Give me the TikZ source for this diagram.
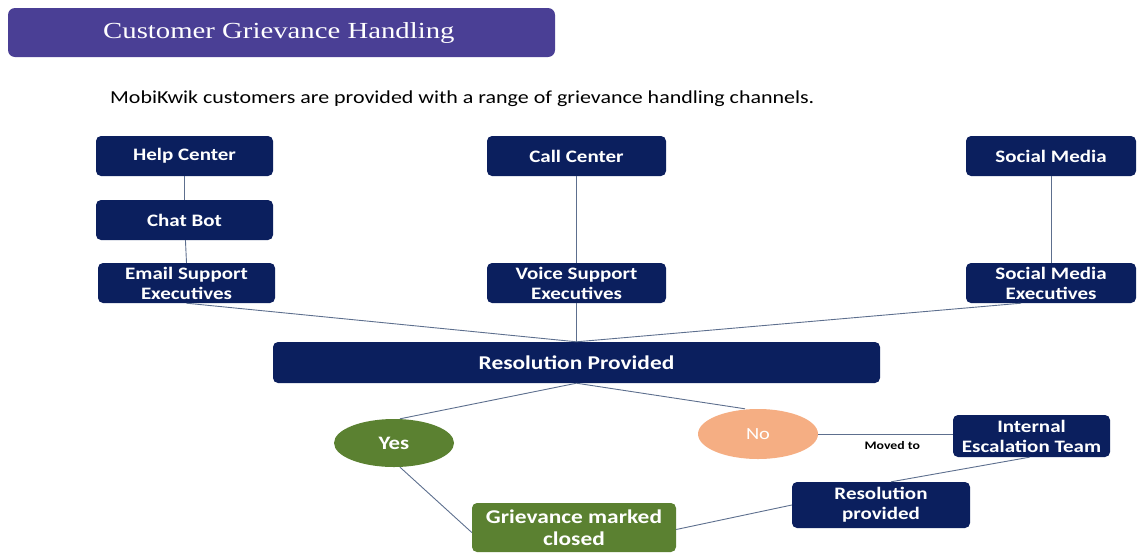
\documentclass[tikz,border=0pt]{standalone}
\usepackage{fontspec}
\setmainfont[FakeStretch=1.2]{Carlito}
\newfontfamily\titlefont[FakeStretch=1.25]{Liberation Serif}
\usetikzlibrary{shapes.geometric}
\definecolor{navy}{HTML}{0B1F5E}
\definecolor{titlebg}{HTML}{4A3F95}
\definecolor{okgreen}{HTML}{5B8131}
\definecolor{nopeach}{HTML}{F5AE83}
\definecolor{linec}{HTML}{5D6F8E}
\tikzset{
  box/.style={draw=none, fill=navy, rounded corners=5pt, text=white, font=\bfseries\fontsize{17.5}{20}\selectfont, align=center, inner sep=0pt},
  greenbox/.style={box, fill=okgreen, font=\bfseries\fontsize{19.5}{22}\selectfont},
  oval/.style={ellipse, fill=okgreen, text=white, font=\bfseries\fontsize{19}{20}\selectfont, inner sep=0pt},
  conn/.style={draw=linec, line width=0.9pt},
}
\begin{document}
\begin{tikzpicture}[x=1pt,y=-1pt]
\useasboundingbox (0,0) rectangle (1137,552);
% title
\node[fill=titlebg, rounded corners=7pt, minimum width=547pt, minimum height=49pt, inner sep=0pt] (title) at (281.5,32.5) {};
\node[anchor=west, inner sep=0pt, text=white, font=\titlefont\fontsize{23}{26}\selectfont] (titletext) at (103,33) {Customer Grievance Handling};
\node[anchor=west, inner sep=0pt, font=\fontsize{18.3}{20}\selectfont] (sub) at (110,99) {MobiKwik customers are provided with a range of grievance handling channels.};
% top row
\node[box, minimum width=177pt, minimum height=40pt] (help) at (184.5,156) {Help Center};
\node[box, minimum width=177pt, minimum height=40pt] (chat) at (184.5,220) {Chat Bot};
\node[box, minimum width=177pt, minimum height=40pt] (email) at (186.5,283) {Email Support\\Executives};
\node[box, minimum width=179pt, minimum height=40pt] (call) at (576.5,156) {Call Center};
\node[box, minimum width=179pt, minimum height=40pt] (voice) at (576.5,283) {Voice Support\\Executives};
\node[box, minimum width=170pt, minimum height=40pt] (social) at (1051,156) {Social Media};
\node[box, minimum width=170pt, minimum height=40pt] (socialx) at (1051,283) {Social Media\\Executives};
\node[box, minimum width=607pt, minimum height=41pt, font=\bfseries\fontsize{19.5}{22}\selectfont] (res) at (576.5,362.5) {Resolution Provided};
\node[oval, minimum width=120pt, minimum height=48pt] (yes) at (394,443) {Yes};
\node[oval, fill=nopeach, font=\fontsize{17}{20}\selectfont, minimum width=120pt, minimum height=50pt] (no) at (758,434) {No};
\node[box, minimum width=157pt, minimum height=42pt] (esc) at (1031.5,436) {Internal\\Escalation Team};
\node[box, minimum width=178pt, minimum height=46pt] (res2) at (881,505) {Resolution\\provided};
\node[greenbox, minimum width=204pt, minimum height=49pt] (closed) at (574,527.5) {Grievance marked\\closed};
% connectors
\draw[conn] (help) -- (chat);
\draw[conn] (chat) -- (email.north);
\draw[conn] (call) -- (voice);
\draw[conn] (social) -- (socialx);
\draw[conn] (email.south) -- (res.north);
\draw[conn] (voice) -- (res);
\draw[conn] ([xshift=-30pt]socialx.south) -- (res.north);
\draw[conn] (res.south) -- ([xshift=6pt]yes.north);
\draw[conn] (res.south) -- ([xshift=-13pt]no.north);
\draw[conn] (no.east) -- node[pos=0.55, below=4pt, font=\bfseries\fontsize{11.5}{12}\selectfont, text=black] (moved) {Moved to} (esc.west |- no.east);
\draw[conn] ([xshift=-2pt]esc.south) -- ([xshift=10pt]res2.north);
\draw[conn] (res2.west) -- ([yshift=-2pt]closed.east);
\draw[conn] ([xshift=6pt]yes.south) -- ([yshift=-5pt]closed.west);
\end{tikzpicture}
\end{document}
